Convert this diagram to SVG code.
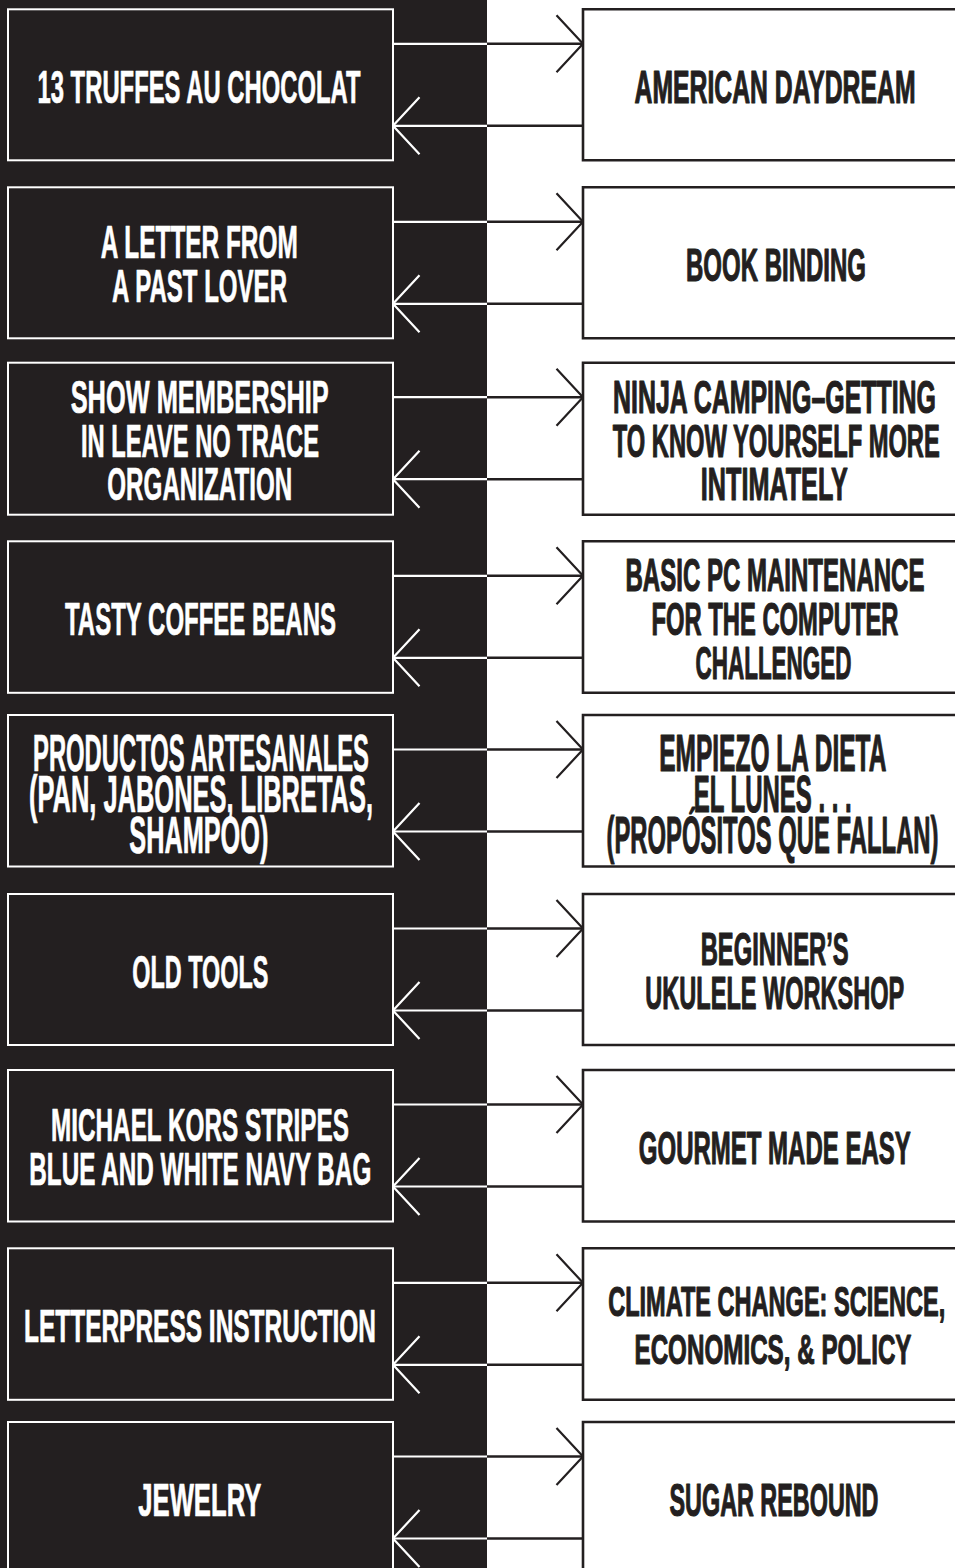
<svg xmlns="http://www.w3.org/2000/svg" width="955" height="1568" viewBox="0 0 955 1568">
<style>
text{font-family:"Liberation Sans",Arial,sans-serif;font-weight:bold;font-size:46px;text-anchor:middle;stroke-linejoin:round}
.lt{fill:#ffffff;stroke:#ffffff;stroke-width:0.7}
.rt{fill:#231f20;stroke:#231f20;stroke-width:1.2}
.big{font-size:52px}
.sm{font-size:43px}
.lb{fill:#231f20;stroke:#ffffff;stroke-width:2}
.rf{fill:#ffffff;stroke:none}
.rb{fill:none;stroke:#231f20;stroke-width:2.6}
.cw{stroke:#ffffff;stroke-width:2.2;fill:none}
.cd{stroke:#231f20;stroke-width:2.4;fill:none}
</style>
<defs>
<marker id="ahD" markerUnits="userSpaceOnUse" markerWidth="30" markerHeight="60" refX="0" refY="0" orient="auto" overflow="visible">
<path d="M-26.5,-28.5 L0,0 L-26.5,28.5" fill="none" stroke="#231f20" stroke-width="2.2"/>
</marker>
<marker id="ahW" markerUnits="userSpaceOnUse" markerWidth="30" markerHeight="60" refX="0" refY="0" orient="auto" overflow="visible">
<path d="M-26.5,-28.5 L0,0 L-26.5,28.5" fill="none" stroke="#ffffff" stroke-width="2.2"/>
</marker>
</defs>
<rect x="0" y="0" width="955" height="1568" fill="#ffffff"/>
<rect x="0" y="0" width="487" height="1568" fill="#231f20"/>

<g id="connectors">
<path class="cw" d="M393,43.8H487"/><path class="cd" d="M487,43.8H583" marker-end="url(#ahD)"/>
<path class="cd" d="M583,125.8H487"/><path class="cw" d="M487,125.8H393" marker-end="url(#ahW)"/>
<path class="cw" d="M393,221.8H487"/><path class="cd" d="M487,221.8H583" marker-end="url(#ahD)"/>
<path class="cd" d="M583,303.8H487"/><path class="cw" d="M487,303.8H393" marker-end="url(#ahW)"/>
<path class="cw" d="M393,397.2H487"/><path class="cd" d="M487,397.2H583" marker-end="url(#ahD)"/>
<path class="cd" d="M583,479.2H487"/><path class="cw" d="M487,479.2H393" marker-end="url(#ahW)"/>
<path class="cw" d="M393,575.8H487"/><path class="cd" d="M487,575.8H583" marker-end="url(#ahD)"/>
<path class="cd" d="M583,657.8H487"/><path class="cw" d="M487,657.8H393" marker-end="url(#ahW)"/>
<path class="cw" d="M393,749.5H487"/><path class="cd" d="M487,749.5H583" marker-end="url(#ahD)"/>
<path class="cd" d="M583,831.5H487"/><path class="cw" d="M487,831.5H393" marker-end="url(#ahW)"/>
<path class="cw" d="M393,928.5H487"/><path class="cd" d="M487,928.5H583" marker-end="url(#ahD)"/>
<path class="cd" d="M583,1010.5H487"/><path class="cw" d="M487,1010.5H393" marker-end="url(#ahW)"/>
<path class="cw" d="M393,1104.5H487"/><path class="cd" d="M487,1104.5H583" marker-end="url(#ahD)"/>
<path class="cd" d="M583,1186.5H487"/><path class="cw" d="M487,1186.5H393" marker-end="url(#ahW)"/>
<path class="cw" d="M393,1282.8H487"/><path class="cd" d="M487,1282.8H583" marker-end="url(#ahD)"/>
<path class="cd" d="M583,1364.8H487"/><path class="cw" d="M487,1364.8H393" marker-end="url(#ahW)"/>
<path class="cw" d="M393,1456.5H487"/><path class="cd" d="M487,1456.5H583" marker-end="url(#ahD)"/>
<path class="cd" d="M583,1538.5H487"/><path class="cw" d="M487,1538.5H393" marker-end="url(#ahW)"/>
</g>

<g id="l1"><rect class="lb" x="8" y="9.3" width="385" height="151"/>
<text class="lt" x="199" y="103.3" textLength="323" lengthAdjust="spacingAndGlyphs">13 TRUFFES AU CHOCOLAT</text></g>
<g id="r1"><rect class="rf" x="583" y="9.3" width="372" height="151"/><path class="rb" d="M955,9.3H583V160.3H955"/>
<text class="rt" x="775" y="103.3" textLength="281" lengthAdjust="spacingAndGlyphs">AMERICAN DAYDREAM</text></g>

<g id="l2"><rect class="lb" x="8" y="187.3" width="385" height="151"/>
<text class="lt" x="199.3" y="258.3" textLength="197" lengthAdjust="spacingAndGlyphs">A LETTER FROM</text>
<text class="lt" x="199.5" y="302.3" textLength="175" lengthAdjust="spacingAndGlyphs">A PAST LOVER</text></g>
<g id="r2"><rect class="rf" x="583" y="187.3" width="372" height="151"/><path class="rb" d="M955,187.3H583V338.3H955"/>
<text class="rt" x="776" y="281.3" textLength="180" lengthAdjust="spacingAndGlyphs">BOOK BINDING</text></g>

<g id="l3"><rect class="lb" x="8" y="362.7" width="385" height="152"/>
<text class="lt" x="199.7" y="412.7" textLength="258" lengthAdjust="spacingAndGlyphs">SHOW MEMBERSHIP</text>
<text class="lt" x="200" y="456.7" textLength="238" lengthAdjust="spacingAndGlyphs">IN LEAVE NO TRACE</text>
<text class="lt" x="199.8" y="500" textLength="185" lengthAdjust="spacingAndGlyphs">ORGANIZATION</text></g>
<g id="r3"><rect class="rf" x="583" y="362.7" width="372" height="152"/><path class="rb" d="M955,362.7H583V514.7H955"/>
<text class="rt" x="774.5" y="412.7" textLength="323" lengthAdjust="spacingAndGlyphs">NINJA CAMPING–GETTING</text>
<text class="rt" x="776.3" y="456.7" textLength="327" lengthAdjust="spacingAndGlyphs">TO KNOW YOURSELF MORE</text>
<text class="rt" x="774.3" y="500" textLength="147" lengthAdjust="spacingAndGlyphs">INTIMATELY</text></g>

<g id="l4"><rect class="lb" x="8" y="541.3" width="385" height="151.5"/>
<text class="lt" x="200.5" y="635.3" textLength="271" lengthAdjust="spacingAndGlyphs">TASTY COFFEE BEANS</text></g>
<g id="r4"><rect class="rf" x="583" y="541.3" width="372" height="151.5"/><path class="rb" d="M955,541.3H583V692.8H955"/>
<text class="rt" x="775" y="591.3" textLength="299" lengthAdjust="spacingAndGlyphs">BASIC PC MAINTENANCE</text>
<text class="rt" x="775" y="635.3" textLength="247" lengthAdjust="spacingAndGlyphs">FOR THE COMPUTER</text>
<text class="rt" x="773.5" y="678.6" textLength="156" lengthAdjust="spacingAndGlyphs">CHALLENGED</text></g>

<g id="l5"><rect class="lb" x="8" y="715" width="385" height="151.5"/>
<text class="lt big" x="201" y="771" textLength="336" lengthAdjust="spacingAndGlyphs">PRODUCTOS ARTESANALES</text>
<text class="lt big" x="201" y="812" textLength="344" lengthAdjust="spacingAndGlyphs">(PAN, JABONES, LIBRETAS,</text>
<text class="lt big" x="198.8" y="853" textLength="139" lengthAdjust="spacingAndGlyphs">SHAMPOO)</text></g>
<g id="r5"><rect class="rf" x="583" y="715" width="372" height="151.5"/><path class="rb" d="M955,715H583V866.5H955"/>
<text class="rt big" x="772.8" y="771" textLength="227" lengthAdjust="spacingAndGlyphs">EMPIEZO LA DIETA</text>
<text class="rt big" x="772.7" y="812" textLength="158" lengthAdjust="spacingAndGlyphs">EL LUNES . . .</text>
<text class="rt big" x="772.5" y="853" textLength="332" lengthAdjust="spacingAndGlyphs">(PROPÓSITOS QUE FALLAN)</text></g>

<g id="l6"><rect class="lb" x="8" y="894" width="385" height="151"/>
<text class="lt" x="200.3" y="988" textLength="136" lengthAdjust="spacingAndGlyphs">OLD TOOLS</text></g>
<g id="r6"><rect class="rf" x="583" y="894" width="372" height="151"/><path class="rb" d="M955,894H583V1045H955"/>
<text class="rt" x="774.7" y="965" textLength="148" lengthAdjust="spacingAndGlyphs">BEGINNER’S</text>
<text class="rt" x="774.8" y="1009" textLength="259" lengthAdjust="spacingAndGlyphs">UKULELE WORKSHOP</text></g>

<g id="l7"><rect class="lb" x="8" y="1070" width="385" height="151.5"/>
<text class="lt" x="200" y="1141" textLength="298" lengthAdjust="spacingAndGlyphs">MICHAEL KORS STRIPES</text>
<text class="lt" x="200.3" y="1185" textLength="342" lengthAdjust="spacingAndGlyphs">BLUE AND WHITE NAVY BAG</text></g>
<g id="r7"><rect class="rf" x="583" y="1070" width="372" height="151.5"/><path class="rb" d="M955,1070H583V1221.5H955"/>
<text class="rt" x="774.8" y="1164" textLength="272" lengthAdjust="spacingAndGlyphs">GOURMET MADE EASY</text></g>

<g id="l8"><rect class="lb" x="8" y="1248.3" width="385" height="151.5"/>
<text class="lt" x="200" y="1342.3" textLength="352" lengthAdjust="spacingAndGlyphs">LETTERPRESS INSTRUCTION</text></g>
<g id="r8"><rect class="rf" x="583" y="1248.3" width="372" height="151.5"/><path class="rb" d="M955,1248.3H583V1399.8H955"/>
<text class="rt sm" x="776.7" y="1315.7" textLength="337" lengthAdjust="spacingAndGlyphs">CLIMATE CHANGE: SCIENCE,</text>
<text class="rt sm" x="773" y="1364.3" textLength="277" lengthAdjust="spacingAndGlyphs">ECONOMICS, &amp; POLICY</text></g>

<g id="l9"><rect class="lb" x="8" y="1422" width="385" height="151.5"/>
<text class="lt" x="199.8" y="1516" textLength="123" lengthAdjust="spacingAndGlyphs">JEWELRY</text></g>
<g id="r9"><rect class="rf" x="583" y="1422" width="372" height="146"/><path class="rb" d="M955,1422H583V1568"/>
<text class="rt" x="774" y="1516" textLength="209" lengthAdjust="spacingAndGlyphs">SUGAR REBOUND</text></g>
</svg>
